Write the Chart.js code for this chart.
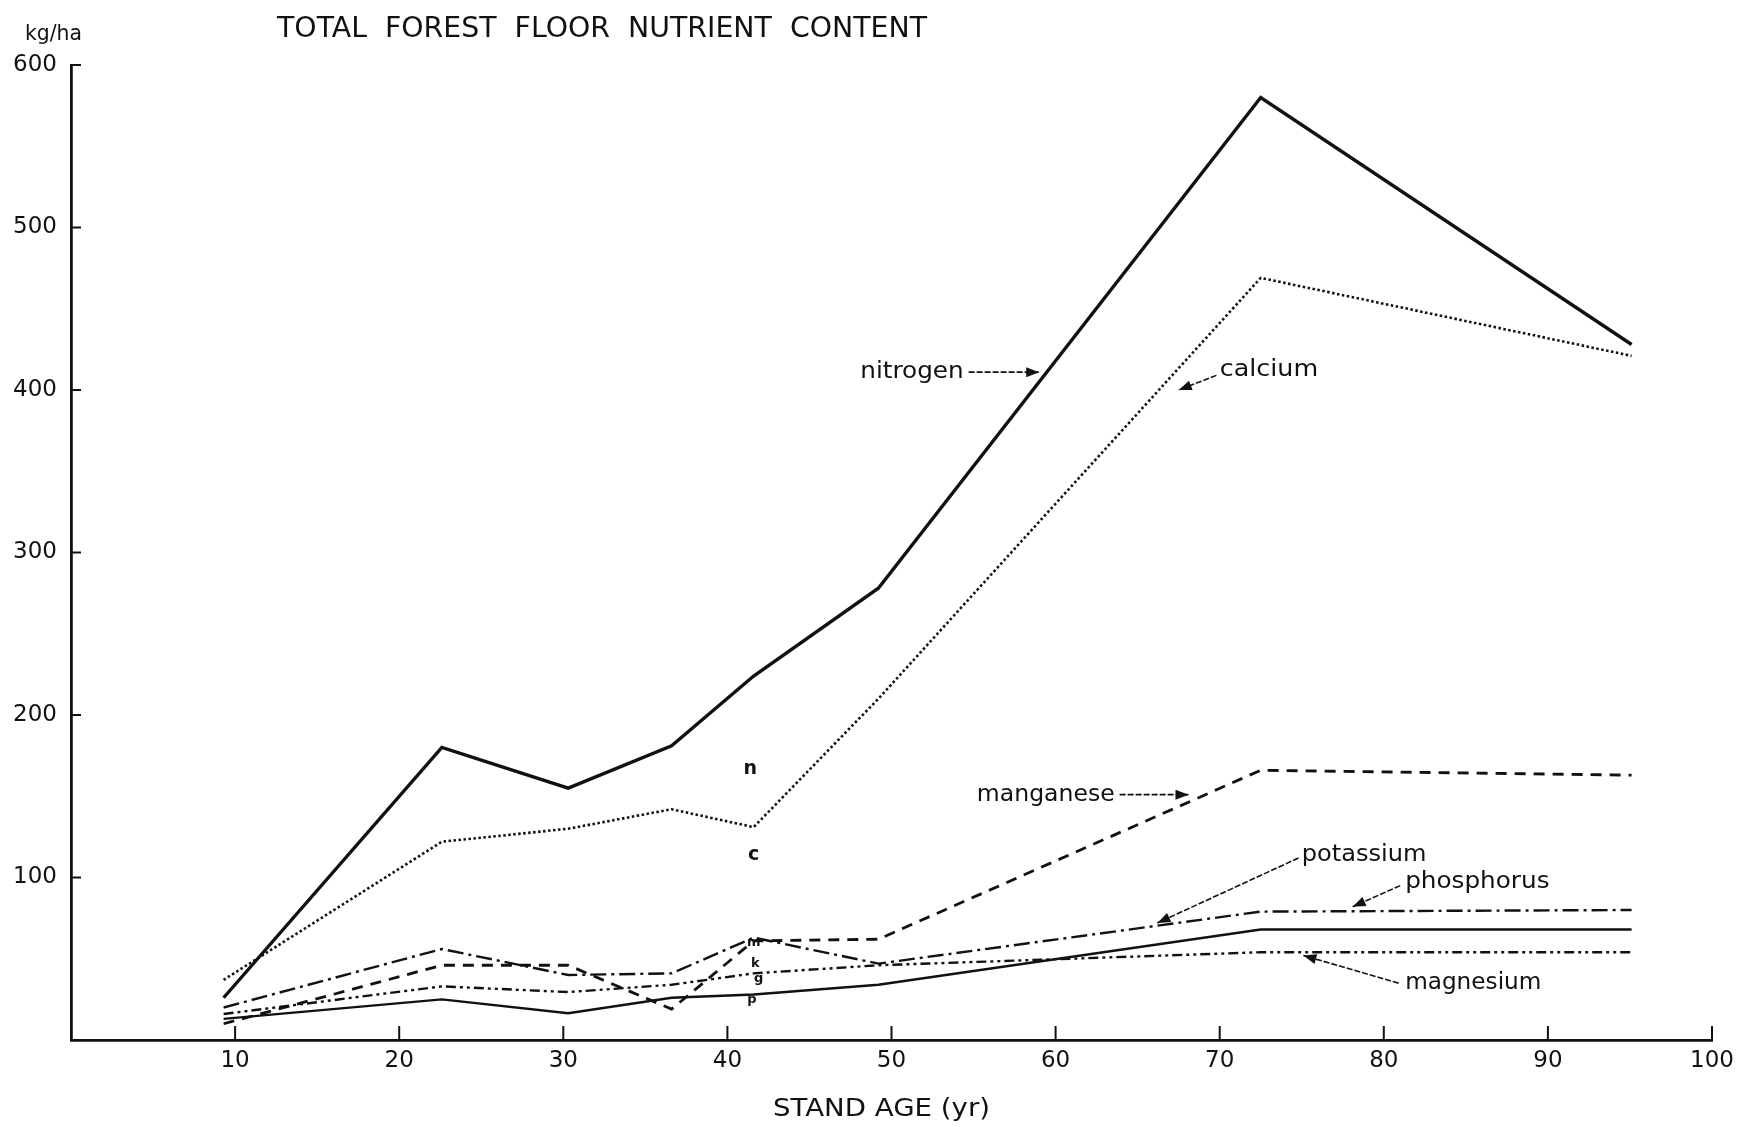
<!DOCTYPE html>
<html>
<head>
<meta charset="utf-8">
<script src="https://cdn.jsdelivr.net/npm/chart.js@4.4.1/dist/chart.umd.min.js"></script>
<style>
  html, body { margin: 0; padding: 0; background: #fff; }
  canvas { display: block; }
</style>
</head>
<body>
<canvas id="myChart" width="1751" height="1127"></canvas>
<script>
// stand ages (yr) where the forest floor was sampled
const sampleAges = [9.3, 22.6, 30.3, 36.6, 41.6, 49.2, 72.5, 95.1];

// nutrient content, kg/ha
const nitrogen   = [26, 180, 155, 181, 224, 278, 580, 428];
const calcium    = [37, 122, 130, 142, 131, 210, 469, 421];
const manganese  = [10, 46, 46, 19, 61, 62, 166, 163];
const potassium  = [20, 56, 40, 41, 63, 47, 79, 80];
const phosphorus = [13, 25, 16.5, 26, 28, 34, 68, 68];
const magnesium  = [16, 33, 29.5, 34, 41, 46, 54, 54];

// axis ranges / ticks
const xRange = [0, 100];
const yRange = [0, 600];
const xStep = 10;
const yStep = 100;

const INK = '#111';

function pts(vals) {
    return sampleAges.map((a, i) => ({ x: a, y: vals[i] }));
}

function series(label, vals, width, dash) {
    return {
        label: label,
        data: pts(vals),
        borderColor: INK,
        borderWidth: width,
        borderDash: dash,
        borderCapStyle: 'butt',
        borderJoinStyle: 'miter',
        pointRadius: 0,
        tension: 0,
        fill: false
    };
}

// text drawn squeezed/stretched to a given width (the original lettering is narrow)
function fitText(c, text, x, y, w, size, weight) {
    c.save();
    c.font = (weight || 'normal') + ' ' + size + 'px "DejaVu Sans", sans-serif';
    c.textBaseline = 'middle';
    c.textAlign = 'left';
    const m = c.measureText(text).width;
    c.translate(x, y);
    c.scale(w / m, 1);
    c.fillStyle = INK;
    c.fillText(text, 0, 0);
    c.restore();
}

function arrow(c, x1, y1, x2, y2) {
    c.save();
    c.strokeStyle = INK;
    c.fillStyle = INK;
    c.lineWidth = 1.6;
    c.setLineDash([6, 2]);
    c.beginPath();
    c.moveTo(x1, y1);
    c.lineTo(x2, y2);
    c.stroke();
    c.setLineDash([]);
    const ang = Math.atan2(y2 - y1, x2 - x1);
    const L = 13, W = 5;
    c.beginPath();
    c.moveTo(x2, y2);
    c.lineTo(x2 - L * Math.cos(ang) + W * Math.sin(ang), y2 - L * Math.sin(ang) - W * Math.cos(ang));
    c.lineTo(x2 - L * Math.cos(ang) - W * Math.sin(ang), y2 - L * Math.sin(ang) + W * Math.cos(ang));
    c.closePath();
    c.fill();
    c.restore();
}

// curve labels: text box in data units (x from, x to, y), arrow from -> to in data units
const labels = [
    { text: 'nitrogen',   x0: 48.1, x1: 54.4, y: 411, from: [54.7, 411], to: [59.0, 411] },
    { text: 'calcium',    x0: 70.0, x1: 76.0, y: 412, from: [69.8, 409], to: [67.5, 400] },
    { text: 'manganese',  x0: 55.2, x1: 63.6, y: 151, from: [63.9, 151], to: [68.1, 151] },
    { text: 'potassium',  x0: 75.0, x1: 82.6, y: 114, from: [74.8, 112], to: [66.2, 72] },
    { text: 'phosphorus', x0: 81.3, x1: 90.1, y: 97,  from: [81.0, 95],  to: [78.1, 82] },
    { text: 'magnesium',  x0: 81.3, x1: 89.6, y: 35,  from: [80.9, 35],  to: [75.1, 52] }
];

// small letters written beside the 41 yr points
const letters = [
    { t: 'n', x: 41.4, y: 167, s: 19 },
    { t: 'c', x: 41.6, y: 114, s: 19 },
    { t: 'm', x: 41.6, y: 60, s: 13 },
    { t: 'k', x: 41.7, y: 47, s: 13 },
    { t: 'g', x: 41.9, y: 38, s: 13 },
    { t: 'p', x: 41.5, y: 25, s: 13 }
];

const decorations = {
    id: 'decorations',
    afterDraw(chart) {
        const c = chart.ctx;
        const xs = chart.scales.x, ys = chart.scales.y;
        const area = chart.chartArea;

        // inward tick marks
        c.save();
        c.strokeStyle = INK;
        c.lineWidth = 2;
        for (let v = yRange[0] + yStep; v <= yRange[1]; v += yStep) {
            const py = ys.getPixelForValue(v);
            c.beginPath(); c.moveTo(area.left, py); c.lineTo(area.left + 10, py); c.stroke();
        }
        for (let v = xRange[0] + xStep; v <= xRange[1]; v += xStep) {
            const px = xs.getPixelForValue(v);
            c.beginPath(); c.moveTo(px, area.bottom); c.lineTo(px, area.bottom - 14); c.stroke();
        }
        c.restore();

        labels.forEach(l => {
            const a = xs.getPixelForValue(l.x0), b = xs.getPixelForValue(l.x1);
            fitText(c, l.text, a, ys.getPixelForValue(l.y), b - a, 23);
            arrow(c, xs.getPixelForValue(l.from[0]), ys.getPixelForValue(l.from[1]),
                     xs.getPixelForValue(l.to[0]), ys.getPixelForValue(l.to[1]));
        });

        letters.forEach(l => {
            c.save();
            c.font = 'bold ' + l.s + 'px "DejaVu Sans", sans-serif';
            c.textAlign = 'center';
            c.textBaseline = 'middle';
            c.fillStyle = INK;
            c.fillText(l.t, xs.getPixelForValue(l.x), ys.getPixelForValue(l.y));
            c.restore();
        });

        // titles
        fitText(c, 'TOTAL  FOREST  FLOOR  NUTRIENT  CONTENT', 277, 30, 650, 28);
        fitText(c, 'kg/ha', 25, 35, 57, 21);
        fitText(c, 'STAND AGE (yr)', 773, 1109, 217, 25);
    }
};

const ctx = document.getElementById('myChart').getContext('2d');
const tickFont = { family: '"DejaVu Sans", sans-serif', size: 23 };

new Chart(ctx, {
    type: 'line',
    data: {
        datasets: [
            series('nitrogen', nitrogen, 3.4, []),
            series('calcium', calcium, 2.6, [2.5, 2.5]),
            series('manganese', manganese, 2.8, [11, 8]),
            series('potassium', potassium, 2.4, [16, 5, 3, 5]),
            series('phosphorus', phosphorus, 2.4, []),
            series('magnesium', magnesium, 2.4, [10, 4, 3, 4, 3, 4])
        ]
    },
    options: {
        responsive: false,
        animation: false,
        layout: { padding: { top: 65, right: 39, left: 0, bottom: 0 } },
        plugins: {
            legend: { display: false },
            tooltip: { enabled: false }
        },
        scales: {
            x: {
                type: 'linear',
                min: xRange[0],
                max: xRange[1],
                grid: { display: false, drawTicks: false },
                border: { display: true, color: INK, width: 2.8 },
                ticks: {
                    stepSize: xStep,
                    color: INK,
                    font: tickFont,
                    padding: 7,
                    maxRotation: 0,
                    callback: v => (v === 0 ? null : v)
                },
                afterFit: s => { s.height = 87; }
            },
            y: {
                type: 'linear',
                min: yRange[0],
                max: yRange[1],
                grid: { display: false, drawTicks: false },
                border: { display: true, color: INK, width: 2.8 },
                ticks: {
                    stepSize: yStep,
                    color: INK,
                    font: tickFont,
                    padding: 14,
                    callback: v => (v === 0 ? null : v)
                },
                afterFit: s => { s.width = 71; }
            }
        }
    },
    plugins: [decorations]
});
</script>
</body>
</html>
